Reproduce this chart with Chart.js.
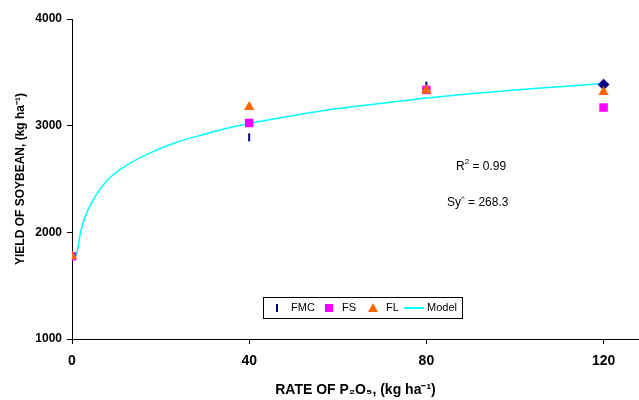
<!DOCTYPE html>
<html>
<head>
<meta charset="utf-8">
<title>Soybean yield vs P2O5</title>
<script src="https://cdn.jsdelivr.net/npm/chart.js@4.4.1/dist/chart.umd.min.js"></script>
<style>
  body { margin: 0; background: #fff; }
  #wrap { width: 639px; height: 400px; position: relative; }
</style>
</head>
<body>
<div id="wrap"><canvas id="grafico-soja"></canvas></div>
<script>
// dados
const rates = [0, 40, 80, 120];
const fmc = [1770, 2890, 3375, 3385];
const fs = [1775, 3025, 3335, 3170];
const fl = [1775, 3175, 3330, 3315];

const modelX = [1, 2, 3, 5, 8, 12, 19, 24, 30, 35, 40, 50, 60, 70, 80, 90, 100, 110, 120];
const modelY = [1780, 2010, 2150, 2320, 2490, 2620, 2770, 2850, 2920, 2975, 3020, 3095, 3160, 3210, 3260, 3300, 3335, 3365, 3395];

const yTicks = [1000, 2000, 3000, 4000];
const xTicks = [0, 40, 80, 120];

const fonte = 'Liberation Sans, Arial, sans-serif';

function pares(xs, ys) {
    return xs.map((x, i) => ({ x: x, y: ys[i] }));
}

// legenda e anotações desenhadas dentro da área do gráfico
const extras = {
    id: 'extras',
    afterDraw(chart) {
        const ctx = chart.ctx;
        ctx.save();

        // caixa da legenda
        ctx.strokeStyle = '#000';
        ctx.lineWidth = 1;
        ctx.strokeRect(263.5, 297.5, 199, 21);
        const cy = 308;
        ctx.font = '11px ' + fonte;
        ctx.fillStyle = '#000';
        ctx.textBaseline = 'middle';

        // FMC (traço)
        ctx.strokeStyle = '#000080';
        ctx.lineWidth = 2;
        ctx.beginPath();
        ctx.moveTo(277, cy - 4);
        ctx.lineTo(277, cy + 4);
        ctx.stroke();
        ctx.fillText('FMC', 291, cy);

        // FS (quadrado)
        ctx.fillStyle = '#FF00FF';
        ctx.fillRect(325, cy - 4, 8, 8);
        ctx.fillStyle = '#000';
        ctx.fillText('FS', 342, cy);

        // FL (triângulo)
        ctx.fillStyle = '#FF6600';
        ctx.beginPath();
        ctx.moveTo(373, cy - 5);
        ctx.lineTo(378, cy + 4);
        ctx.lineTo(368, cy + 4);
        ctx.closePath();
        ctx.fill();
        ctx.fillStyle = '#000';
        ctx.fillText('FL', 386, cy);

        // Model (linha)
        ctx.strokeStyle = '#00FFFF';
        ctx.lineWidth = 2;
        ctx.beginPath();
        ctx.moveTo(404, cy);
        ctx.lineTo(424, cy);
        ctx.stroke();
        ctx.fillText('Model', 427, cy);

        // R² e Sy^
        ctx.font = '12px ' + fonte;
        ctx.textBaseline = 'alphabetic';
        let x = 456;
        ctx.fillText('R', x, 170);
        x += ctx.measureText('R').width;
        ctx.font = '8px ' + fonte;
        ctx.fillText('2', x, 164);
        x += ctx.measureText('2').width;
        ctx.font = '12px ' + fonte;
        ctx.fillText(' = 0.99', x, 170);

        x = 447;
        ctx.fillText('Sy', x, 206);
        x += ctx.measureText('Sy').width;
        ctx.font = '8px ' + fonte;
        ctx.fillText('^', x, 201);
        x += ctx.measureText('^').width;
        ctx.font = '12px ' + fonte;
        ctx.fillText(' = 268.3', x, 206);

        ctx.restore();
    }
};

const ctxSoja = document.getElementById('grafico-soja').getContext('2d');
const graficoSoja = new Chart(ctxSoja, {
    type: 'line',
    data: {
        datasets: [{
            label: 'FMC',
            data: pares(rates, fmc),
            showLine: false,
            pointStyle: ['line', 'line', 'line', 'rectRot'],
            rotation: [90, 90, 90, 0],
            radius: [4, 4, 4, 4.5],
            borderColor: '#000080',
            backgroundColor: '#000080',
            borderWidth: 2,
            order: 3
        }, {
            label: 'FS',
            data: pares(rates, fs),
            showLine: false,
            pointStyle: 'rect',
            radius: 6,
            borderWidth: 0,
            borderColor: '#FF00FF',
            backgroundColor: '#FF00FF',
            order: 2
        }, {
            label: 'FL',
            data: pares(rates, fl),
            showLine: false,
            pointStyle: 'triangle',
            radius: 6,
            borderWidth: 0,
            borderColor: '#FF6600',
            backgroundColor: '#FF6600',
            order: 1
        }, {
            label: 'Model',
            data: pares(modelX, modelY),
            borderColor: '#00FFFF',
            borderWidth: 1.5,
            pointRadius: 0,
            cubicInterpolationMode: 'monotone',
            fill: false,
            order: 4
        }]
    },
    options: {
        responsive: true,
        maintainAspectRatio: false,
        animation: false,
        layout: { autoPadding: false, padding: { top: 19, right: 0, left: 0, bottom: 0 } },
        plugins: {
            legend: { display: false },
            tooltip: { enabled: false }
        },
        scales: {
            x: {
                type: 'linear',
                min: 0,
                max: 128,
                afterFit: (s) => { s.height = 61; },
                afterBuildTicks: (s) => { s.ticks = xTicks.map(v => ({ value: v })); },
                ticks: {
                    color: '#000',
                    padding: 9,
                    callback: (v) => String(v),
                    font: { family: fonte, size: 14, weight: 'bold' }
                },
                grid: { drawOnChartArea: false, color: '#000', tickLength: 5 },
                border: { color: '#000', width: 1 },
                title: {
                    display: true,
                    text: 'RATE OF P₂O₅, (kg ha⁻¹)',
                    color: '#000',
                    padding: { top: 0, bottom: 1 },
                    font: { family: fonte, size: 14, weight: 'bold' }
                }
            },
            y: {
                min: 1000,
                max: 4000,
                afterFit: (s) => { s.width = 72; },
                afterBuildTicks: (s) => { s.ticks = yTicks.map(v => ({ value: v })); },
                ticks: {
                    color: '#000',
                    padding: 5,
                    callback: (v) => String(v),
                    font: { family: fonte, size: 12, weight: 'bold' }
                },
                grid: { drawOnChartArea: false, color: '#000', tickLength: 5 },
                border: { color: '#000', width: 1 },
                title: {
                    display: true,
                    text: 'YIELD OF SOYBEAN, (kg ha⁻¹)',
                    color: '#000',
                    padding: { top: 13, bottom: 0 },
                    font: { family: fonte, size: 12, weight: 'bold' }
                }
            }
        }
    },
    plugins: [extras]
});
</script>
</body>
</html>
